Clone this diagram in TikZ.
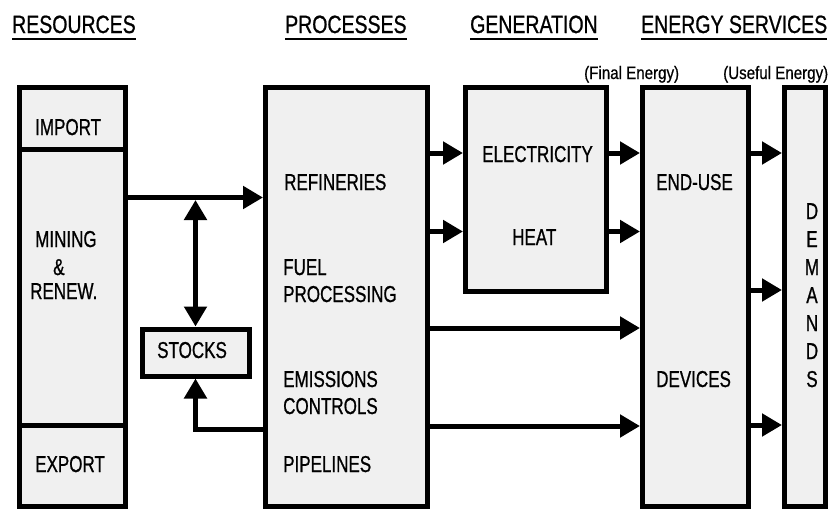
\documentclass[tikz,border=0pt]{standalone}
\usepackage{fontspec}
\setmainfont{Liberation Sans}
\newfontfamily\bodyfont[FakeStretch=0.74,FakeBold=0.8]{Liberation Sans}
\newfontfamily\headfont[FakeStretch=0.78,FakeBold=0.8]{Liberation Sans}
\newfontfamily\labfont[FakeStretch=0.84,FakeBold=0.6]{Liberation Sans}
\usetikzlibrary{arrows.meta}
\definecolor{boxgray}{RGB}{240,240,240}
\begin{document}
\begin{tikzpicture}[x=1pt,y=-1pt,
  box/.style={draw=black, fill=boxgray, line width=5pt, inner sep=0pt, outer sep=0pt},
  txt/.style={inner sep=0pt, anchor=base west, font=\bodyfont\fontsize{23}{28}\selectfont},
  head/.style={inner sep=0pt, anchor=base west, font=\headfont\fontsize{25}{30}\selectfont},
  lab/.style={inner sep=0pt, anchor=base west, font=\labfont\fontsize{18}{22}\selectfont},
  arr/.style={line width=5pt, -{Triangle[length=20pt,width=22pt]}, shorten >=2.5pt},
  dbl/.style={line width=5pt, {Triangle[length=20pt,width=22pt]}-{Triangle[length=20pt,width=22pt]}, shorten >=2.5pt, shorten <=0pt},
  ul/.style={line width=2pt},
  divider/.style={line width=5pt}]
\useasboundingbox (0,0) rectangle (828,509);

% headings
\node[head] (h1) at (12,33) {RESOURCES};
\node[head] (h2) at (285,33) {PROCESSES};
\node[head] (h3) at (470,33) {GENERATION};
\node[head] (h4) at (641,33) {ENERGY SERVICES};
\foreach \h in {h1,h2,h3,h4}
  \draw[ul] ([yshift=-6pt]\h.base west) -- ([yshift=-6pt]\h.base east);
\node[lab] (fe) at (584,79) {(Final Energy)};
\node[lab] (ue) at (723,79) {(Useful Energy)};

% boxes
\node[box, minimum width=106pt, minimum height=419pt] (res) at (72,296.5) {};
\node[box, minimum width=162pt, minimum height=419pt] (proc) at (346.5,296.5) {};
\node[box, minimum width=140.5pt, minimum height=204.5pt] (gen) at (535.75,189.25) {};
\node[box, minimum width=105.5pt, minimum height=419pt] (end) at (695.25,296.5) {};
\node[box, minimum width=40.5pt, minimum height=419pt] (dem) at (804.75,296.5) {};
\node[box, minimum width=107pt, minimum height=47pt] (stocks) at (195.5,352.5) {};

\draw[divider] (res.west |- 0,149.5) -- (res.east |- 0,149.5);
\draw[divider] (res.west |- 0,425) -- (res.east |- 0,425);

% texts
\node[txt] (t1) at (35,135) {IMPORT};
\node[txt] (t2) at (35,247) {MINING};
\node[txt] (t3) at (53,275) {\&};
\node[txt] (t4) at (30,299) {RENEW.};
\node[txt] (t5) at (35,472) {EXPORT};
\node[txt] (t6) at (157,358) {STOCKS};
\node[txt] (t7) at (284,190) {REFINERIES};
\node[txt] (t8) at (283,275) {FUEL};
\node[txt] (t9) at (283,302) {PROCESSING};
\node[txt] (t10) at (283,387) {EMISSIONS};
\node[txt] (t11) at (283,414) {CONTROLS};
\node[txt] (t12) at (283,472) {PIPELINES};
\node[txt] (t13) at (482,162) {ELECTRICITY};
\node[txt] (t14) at (512,245) {HEAT};
\node[txt] (t15) at (656,190) {END-USE};
\node[txt] (t16) at (656,387) {DEVICES};
\node[txt, anchor=north, align=center] (t17) at (812,203) {D\\E\\M\\A\\N\\D\\S};

% connectors
\coordinate (j) at (195.5,200);
\draw[arr] (res.east |- 0,197.5) -- (proc.west |- 0,197.5);
\draw[dbl] (j) -- (stocks.north);
\draw[arr] (proc.west |- 0,429.5) -| (stocks.south);
\draw[arr] (proc.east |- 0,153) -- (gen.west |- 0,153);
\draw[arr] (proc.east |- 0,231.5) -- (gen.west |- 0,231.5);
\draw[arr] (gen.east |- 0,153) -- (end.west |- 0,153);
\draw[arr] (gen.east |- 0,231.5) -- (end.west |- 0,231.5);
\draw[arr] (proc.east |- 0,328) -- (end.west |- 0,328);
\draw[arr] (proc.east |- 0,426) -- (end.west |- 0,426);
\draw[arr] (end.east |- 0,153) -- (dem.west |- 0,153);
\draw[arr] (end.east |- 0,290) -- (dem.west |- 0,290);
\draw[arr] (end.east |- 0,425) -- (dem.west |- 0,425);
\end{tikzpicture}
\end{document}
